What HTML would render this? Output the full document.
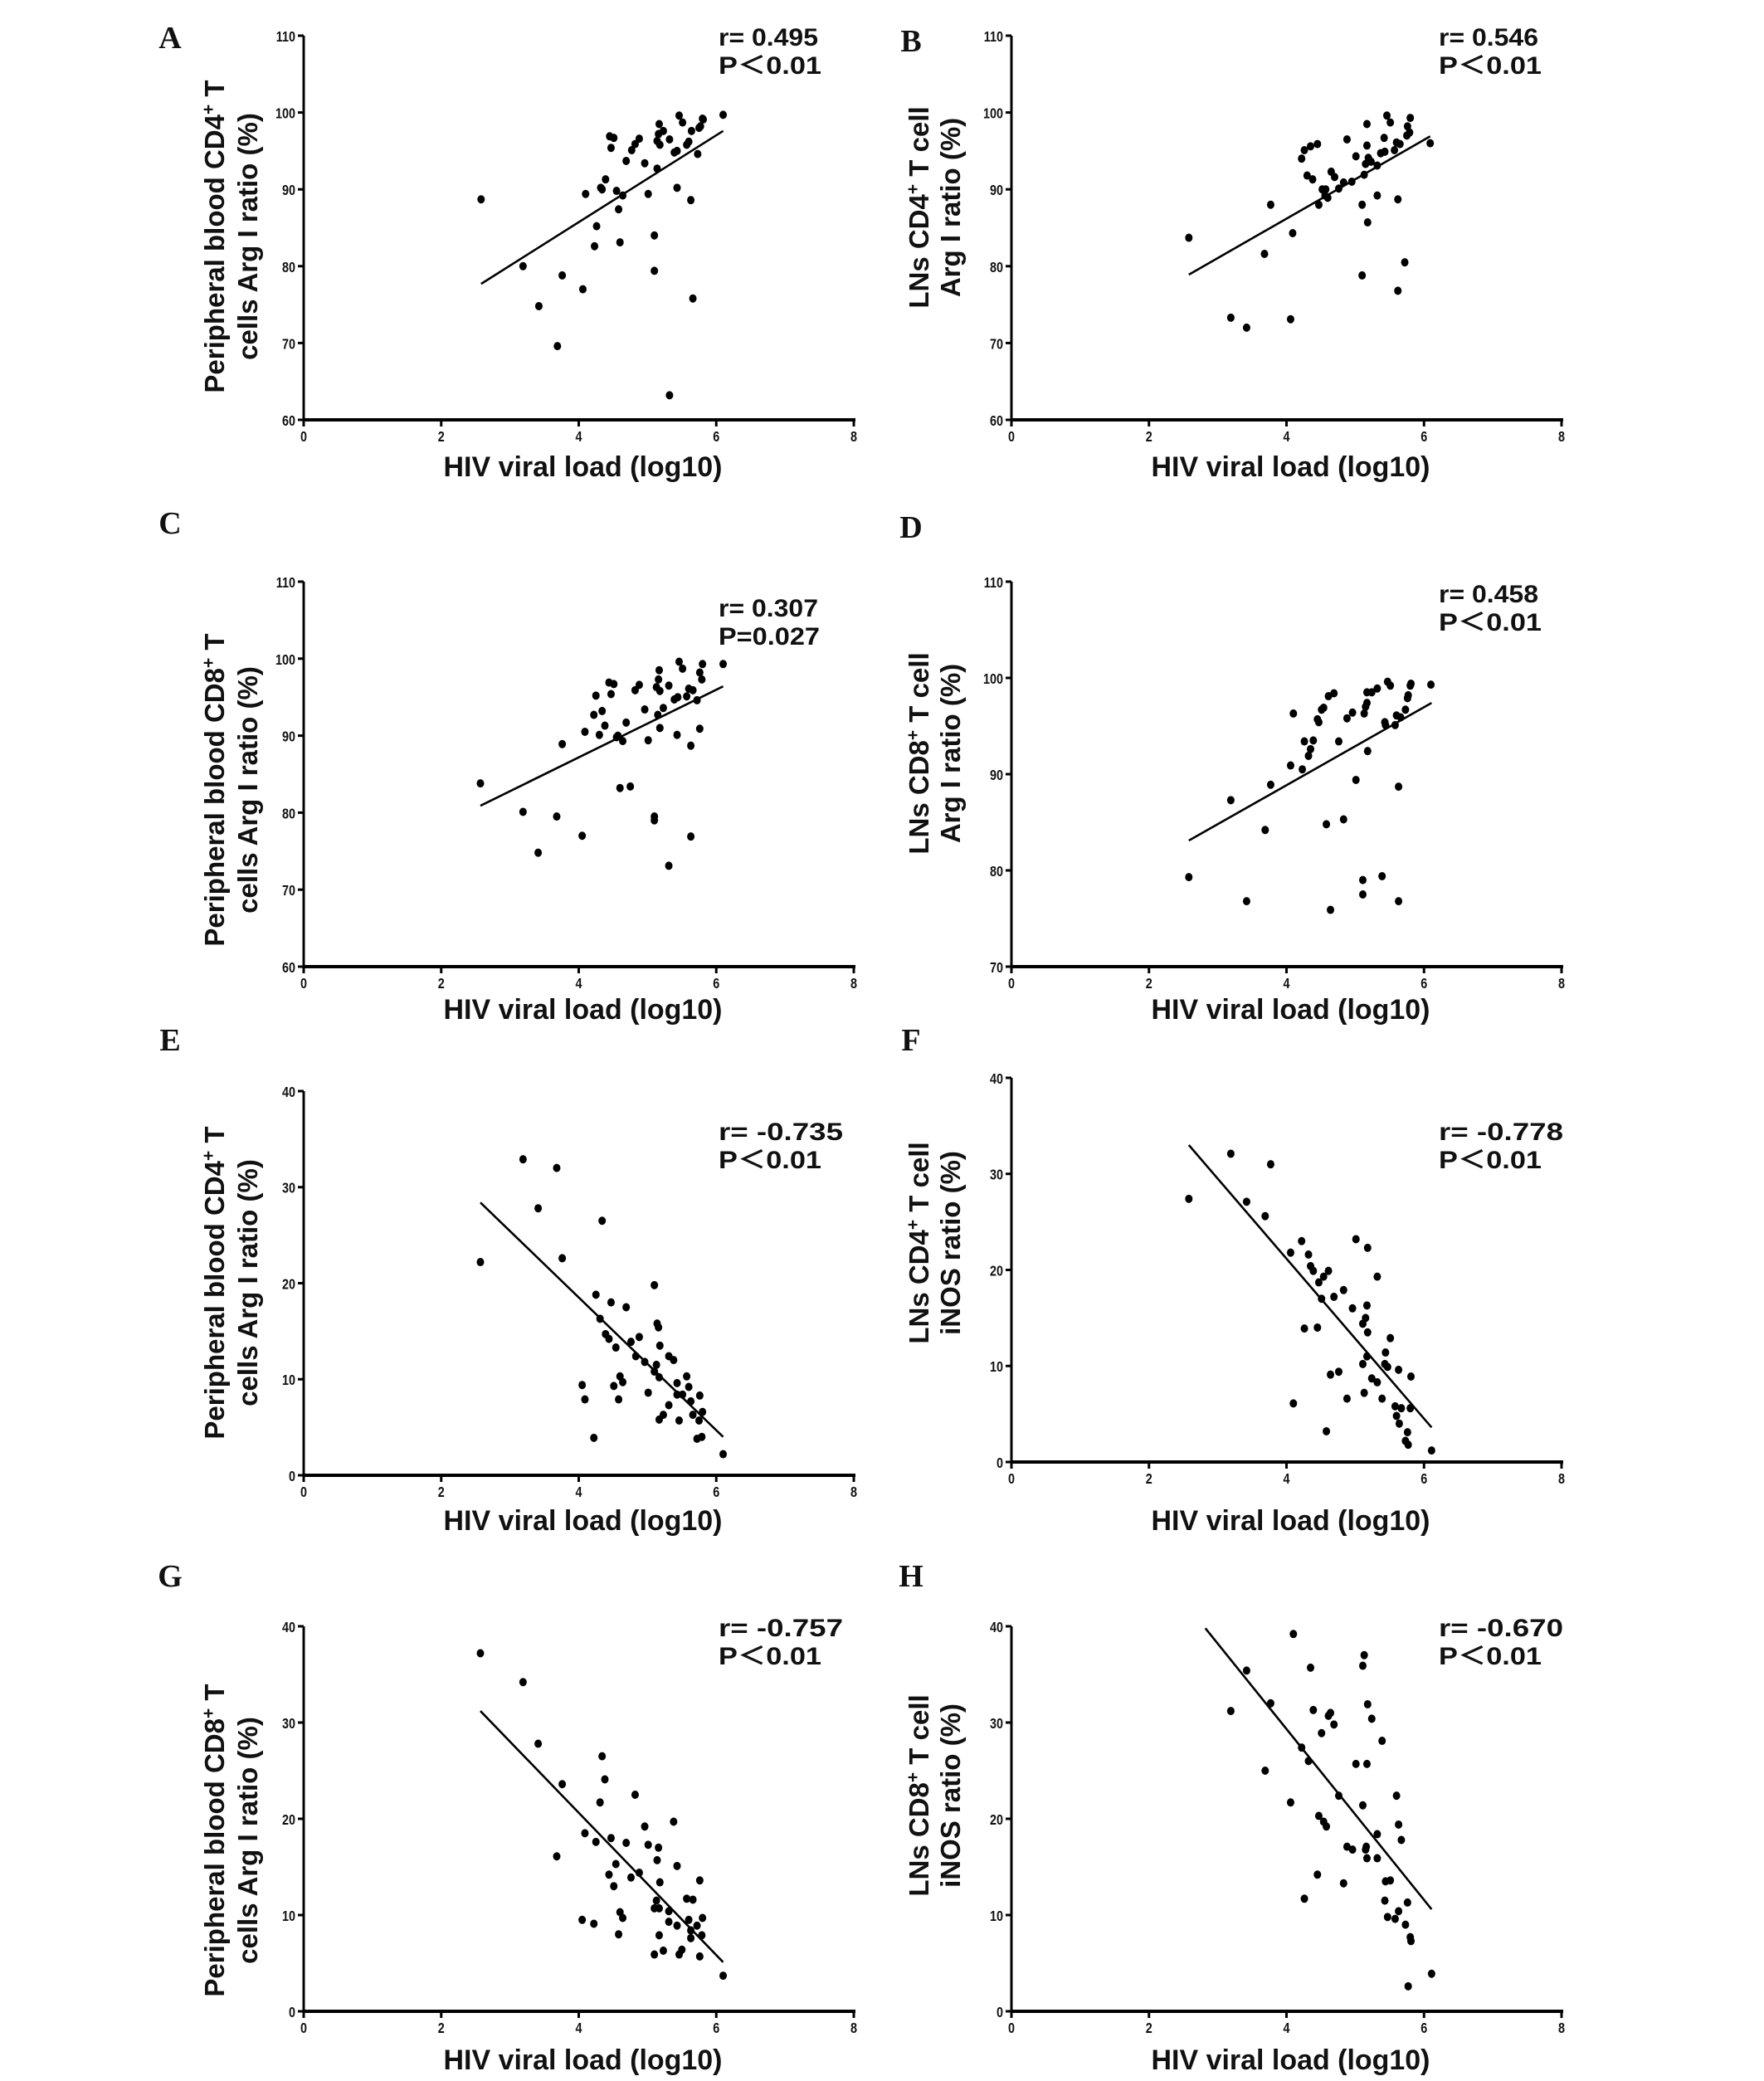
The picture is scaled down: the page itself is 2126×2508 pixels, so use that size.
<!DOCTYPE html>
<html><head><meta charset="utf-8"><style>
html,body{margin:0;padding:0;background:#fff;}
svg{display:block;}
text{font-family:"Liberation Sans","Noto Sans CJK SC",sans-serif;fill:#111;}
</style></head>
<body>
<svg id="fig" xmlns="http://www.w3.org/2000/svg" width="2126" height="2508" viewBox="0 0 2126 2508"></svg>
<script>
// ---- data (x = HIV viral load log10, y = ratio %) ----
const xA=[2.58,3.19,3.42,3.69,3.76,4.06,4.10,4.23,4.26,4.32,4.34,4.39,4.45,4.47,4.51,4.55,4.58,4.60,4.64,4.69,4.77,4.82,4.88,4.96,5.01,5.10,5.10,5.14,5.14,5.16,5.17,5.18,5.23,5.32,5.32,5.39,5.43,5.43,5.46,5.51,5.57,5.60,5.63,5.64,5.66,5.73,5.75,5.77,5.80,5.81,6.10];
const yA=[88.7,80.0,74.8,69.6,78.8,77.0,89.4,82.6,85.2,90.2,90.0,91.3,96.9,95.4,96.7,89.8,87.4,83.1,89.2,93.7,95.1,95.9,96.6,93.4,89.4,84.0,79.4,92.7,96.3,97.2,98.5,95.8,97.6,96.5,63.2,94.8,90.2,95.0,99.6,98.7,95.8,96.2,88.6,97.6,75.8,94.6,98.0,98.2,99.2,99.1,99.7];
const fitXA=[2.58,6.10], fitYA=[77.7,97.6];

const xB=[2.58,3.19,3.42,3.68,3.77,4.06,4.09,4.22,4.26,4.30,4.35,4.38,4.45,4.47,4.52,4.57,4.56,4.60,4.65,4.70,4.76,4.83,4.88,4.95,5.01,5.10,5.10,5.13,5.15,5.17,5.17,5.18,5.19,5.23,5.32,5.32,5.37,5.42,5.43,5.46,5.51,5.57,5.60,5.62,5.62,5.65,5.72,5.75,5.76,5.79,5.80,6.09];
const yB=[83.7,73.3,72.0,81.6,88.0,73.1,84.3,94.0,95.1,91.8,95.6,91.3,95.9,88.0,90.0,90.0,89.2,88.9,92.3,91.6,90.1,90.9,96.5,91.0,94.3,88.0,78.8,91.9,93.3,98.5,95.7,85.7,94.1,93.6,93.1,89.2,94.7,96.7,94.9,99.6,98.7,95.1,96.1,88.7,76.8,95.9,80.5,97.0,98.2,97.4,99.3,96.0];
const fitXB=[2.58,6.09], fitYB=[78.9,96.9];

const xC=[2.57,3.19,3.41,3.68,3.76,4.05,4.09,4.22,4.25,4.30,4.34,4.38,4.44,4.51,4.47,4.55,4.57,4.60,4.64,4.69,4.75,4.82,4.88,4.96,5.01,5.10,5.10,5.13,5.15,5.16,5.17,5.18,5.18,5.23,5.31,5.31,5.39,5.43,5.44,5.46,5.51,5.57,5.60,5.63,5.63,5.66,5.72,5.76,5.76,5.79,5.80,6.10];
const yC=[83.8,80.1,74.8,79.5,88.9,77.0,90.5,92.7,95.2,90.1,93.2,91.3,96.9,96.7,95.4,89.8,90.0,83.2,89.3,91.7,83.4,95.9,96.6,93.4,89.4,79.5,79.0,96.3,92.7,97.3,98.5,95.8,91.0,93.6,96.5,73.1,94.7,90.1,95.0,99.6,98.7,95.1,96.1,88.7,76.9,95.9,94.6,90.9,98.2,97.3,99.3,99.3];
const fitXC=[2.57,6.10], fitYC=[80.9,96.4];

const xD=[2.58,3.19,3.42,3.69,3.77,4.06,4.10,4.23,4.26,4.32,4.35,4.39,4.45,4.47,4.51,4.54,4.58,4.61,4.64,4.69,4.76,4.83,4.88,4.96,5.01,5.11,5.11,5.13,5.15,5.17,5.17,5.18,5.24,5.32,5.39,5.43,5.44,5.47,5.51,5.58,5.60,5.63,5.63,5.66,5.73,5.76,5.77,5.80,5.81,6.10];
const yD=[79.3,87.3,76.8,84.2,88.9,90.9,96.3,90.5,93.4,91.9,92.6,93.5,95.7,95.4,96.7,96.9,84.8,98.1,75.9,98.4,93.4,85.3,95.8,96.4,89.4,79.0,77.5,96.3,97.0,97.4,98.5,92.4,98.5,98.9,79.4,95.4,95.1,99.6,99.2,95.1,96.1,88.7,76.8,95.9,96.7,97.9,98.2,99.2,99.4,99.3];
const fitXD=[2.58,6.11], fitYD=[83.1,97.4];

const xE=[2.57,3.19,3.41,3.68,3.76,4.05,4.09,4.22,4.25,4.31,4.34,4.39,4.44,4.47,4.51,4.54,4.58,4.60,4.64,4.69,4.76,4.83,4.88,4.96,5.01,5.10,5.10,5.13,5.14,5.16,5.17,5.17,5.18,5.23,5.31,5.31,5.38,5.43,5.43,5.46,5.51,5.57,5.60,5.63,5.66,5.72,5.75,5.76,5.79,5.80,6.10];
const yE=[22.2,32.9,27.8,32.0,22.6,9.4,7.9,3.9,18.8,16.3,26.5,14.7,14.2,18.0,9.3,13.3,7.9,10.3,9.7,17.5,13.9,12.4,14.4,11.8,8.6,19.8,10.8,11.5,15.8,15.4,10.2,5.8,13.5,6.3,12.4,7.3,12.0,9.6,8.4,5.7,8.4,10.3,9.2,7.7,6.3,3.8,5.7,8.3,4.0,6.6,2.2];
const fitXE=[2.57,6.10], fitYE=[28.4,4.0];

const xF=[2.58,3.19,3.42,3.69,3.77,4.06,4.10,4.22,4.26,4.32,4.35,4.39,4.45,4.47,4.51,4.54,4.58,4.61,4.64,4.69,4.76,4.83,4.88,4.96,5.01,5.11,5.11,5.13,5.15,5.17,5.17,5.18,5.18,5.24,5.32,5.32,5.39,5.43,5.44,5.47,5.51,5.58,5.60,5.63,5.64,5.67,5.73,5.76,5.77,5.81,5.80,6.11];
const yF=[27.4,32.1,27.1,25.6,31.0,21.8,6.1,23.0,13.9,21.6,20.4,19.9,14.0,18.7,17.0,19.3,3.2,19.9,9.1,17.2,9.4,17.9,6.6,16.0,23.2,10.2,14.4,7.2,15.0,16.3,11.0,22.3,13.5,8.7,19.3,8.3,6.6,10.2,11.4,9.9,12.9,5.8,4.8,9.6,4.0,5.6,2.2,3.1,1.8,8.9,5.6,1.2];
const fitXF=[2.58,6.11], fitYF=[33.0,3.6];

const xG=[2.57,3.19,3.41,3.68,3.76,4.05,4.09,4.22,4.25,4.31,4.34,4.38,4.44,4.47,4.51,4.54,4.58,4.60,4.64,4.69,4.76,4.82,4.88,4.96,5.01,5.10,5.10,5.13,5.14,5.16,5.17,5.17,5.18,5.23,5.31,5.31,5.38,5.43,5.43,5.46,5.50,5.57,5.60,5.63,5.63,5.66,5.72,5.76,5.76,5.79,5.80,6.10];
const yG=[37.2,34.2,27.8,16.1,23.6,9.5,18.5,9.1,17.6,21.7,26.5,24.1,14.2,18.0,13.0,15.3,8.0,10.3,9.7,17.5,13.9,22.5,14.4,19.2,17.3,5.9,10.7,11.5,15.7,17.0,10.7,7.9,13.4,6.3,10.4,9.3,19.7,8.9,15.1,5.9,6.4,11.7,9.5,7.6,8.4,11.6,8.9,5.7,13.6,7.9,9.7,3.7];
const fitXG=[2.57,6.10], fitYG=[31.2,5.1];

const xH=[3.19,3.42,3.69,3.77,4.06,4.10,4.22,4.26,4.32,4.35,4.39,4.45,4.47,4.51,4.54,4.58,4.61,4.64,4.69,4.76,4.83,4.88,4.96,5.01,5.11,5.11,5.13,5.15,5.16,5.17,5.17,5.18,5.24,5.32,5.32,5.39,5.43,5.44,5.47,5.51,5.58,5.60,5.63,5.63,5.67,5.73,5.76,5.77,5.80,5.81,6.11];
const yH=[31.2,35.4,25.0,32.0,21.7,39.2,27.4,11.7,26.0,35.7,31.3,14.2,20.3,28.9,19.7,19.2,30.7,31.0,29.8,22.4,13.3,17.1,16.8,25.7,35.9,21.4,37.0,16.8,17.1,25.7,15.9,31.9,30.4,18.4,15.9,28.1,11.5,13.5,9.8,13.6,9.6,22.4,10.4,19.4,17.8,9.0,11.3,2.6,7.7,7.3,3.9];
const fitXH=[2.82,6.11], fitYH=[39.8,10.6];

const xTicks=[0,2,4,6,8];
const yTicksArg=[60,70,80,90,100,110];
const yTicksD=[70,80,90,100,110];
const yTicksPct=[0,10,20,30,40];

const NS="http://www.w3.org/2000/svg";
const svg=document.getElementById('fig');
function mk(tag,attrs,parent){const e=document.createElementNS(NS,tag);for(const k in attrs)e.setAttribute(k,attrs[k]);(parent||svg).appendChild(e);return e;}

const panels=[
 {id:'a',letter:'A',lx:205,ly:58,X0:366,X1:1029,Y0:506,Y1:43,yt:yTicksArg,xs:xA,ys:yA,fx:fitXA,fy:fitYA,r:'r= 0.495',p:'P＜0.01',rx:866,ry:55,t1:'Peripheral blood CD4',t2:'cells Arg I ratio (%)',tail:' T',tx:[258,298],tc:285,xt:562},
 {id:'b',letter:'B',lx:1098,ly:62,X0:1219,X1:1882,Y0:506,Y1:43,yt:yTicksArg,xs:xB,ys:yB,fx:fitXB,fy:fitYB,r:'r= 0.546',p:'P＜0.01',rx:1734,ry:55,t1:'LNs CD4',t2:'Arg I ratio (%)',tail:' T cell',tx:[1107,1145],tc:250,xt:562},
 {id:'c',letter:'C',lx:205,ly:643,X0:366,X1:1029,Y0:1165,Y1:701,yt:yTicksArg,xs:xC,ys:yC,fx:fitXC,fy:fitYC,r:'r= 0.307',p:'P=0.027',rx:866,ry:743,t1:'Peripheral blood CD8',t2:'cells Arg I ratio (%)',tail:' T',tx:[258,298],tc:952,xt:1216},
 {id:'d',letter:'D',lx:1098,ly:648,X0:1219,X1:1882,Y0:1165,Y1:701,yt:yTicksD,xs:xD,ys:yD,fx:fitXD,fy:fitYD,r:'r= 0.458',p:'P＜0.01',rx:1734,ry:726,t1:'LNs CD8',t2:'Arg I ratio (%)',tail:' T cell',tx:[1107,1145],tc:908,xt:1216},
 {id:'e',letter:'E',lx:205,ly:1266,X0:366,X1:1029,Y0:1778,Y1:1315,yt:yTicksPct,xs:xE,ys:yE,fx:fitXE,fy:fitYE,r:'r= -0.735',p:'P＜0.01',rx:866,ry:1374,t1:'Peripheral blood CD4',t2:'cells Arg I ratio (%)',tail:' T',tx:[258,298],tc:1546,xt:1832},
 {id:'f',letter:'F',lx:1098,ly:1266,X0:1219,X1:1882,Y0:1762,Y1:1299,yt:yTicksPct,xs:xF,ys:yF,fx:fitXF,fy:fitYF,r:'r= -0.778',p:'P＜0.01',rx:1734,ry:1374,t1:'LNs CD4',t2:'iNOS ratio (%)',tail:' T cell',tx:[1107,1145],tc:1498,xt:1832},
 {id:'g',letter:'G',lx:205,ly:1912,X0:366,X1:1029,Y0:2424,Y1:1960,yt:yTicksPct,xs:xG,ys:yG,fx:fitXG,fy:fitYG,r:'r= -0.757',p:'P＜0.01',rx:866,ry:1972,t1:'Peripheral blood CD8',t2:'cells Arg I ratio (%)',tail:' T',tx:[258,298],tc:2218,xt:2482},
 {id:'h',letter:'H',lx:1098,ly:1912,X0:1219,X1:1882,Y0:2424,Y1:1960,yt:yTicksPct,xs:xH,ys:yH,fx:fitXH,fy:fitYH,r:'r= -0.670',p:'P＜0.01',rx:1734,ry:1972,t1:'LNs CD8',t2:'iNOS ratio (%)',tail:' T cell',tx:[1107,1145],tc:2164,xt:2482}
];

panels.forEach(P=>{
  const g=mk('g',{});
  
  
  const yMin=P.yt[0], yMax=P.yt[P.yt.length-1];
  const sx=v=>P.X0+(v-0)/(8-0)*(P.X1-P.X0);
  const sy=v=>P.Y0-(v-yMin)/(yMax-yMin)*(P.Y0-P.Y1);

  const L=mk('text',{x:P.lx,y:P.ly,'text-anchor':'middle','font-size':38,'font-weight':'bold',style:'font-family:"Liberation Serif",serif'},g);
  L.textContent=P.letter;
  
  

  const ax=mk('line',{x1:P.X0,y1:P.Y0,x2:P.X1+2,y2:P.Y0,stroke:'#000','stroke-width':4},g);
  
  
  const ay=mk('line',{x1:P.X0,y1:P.Y0+2,x2:P.X0,y2:P.Y1,stroke:'#000','stroke-width':3},g);
  
  

  xTicks.forEach(t=>{
    const tk=mk('line',{x1:sx(t),y1:P.Y0,x2:sx(t),y2:P.Y0+8,stroke:'#000','stroke-width':3},g);
    
    
    const tl=mk('text',{x:sx(t),y:P.Y0+26,'text-anchor':'middle','font-size':18,'font-weight':'bold',transform:'translate('+sx(t)+',0) scale(0.8,1) translate('+(-sx(t))+',0)'},g);
    tl.textContent=t;
    
    
  });
  P.yt.forEach(t=>{
    const tk=mk('line',{x1:P.X0-7,y1:sy(t),x2:P.X0,y2:sy(t),stroke:'#000','stroke-width':3},g);
    
    
    const ex=P.X0-10;
    const tl=mk('text',{x:ex,y:sy(t)+7,'text-anchor':'end','font-size':18,'font-weight':'bold',transform:'translate('+ex+',0) scale(0.8,1) translate('+(-ex)+',0)'},g);
    tl.textContent=t;
    
    
  });

  const xt=mk('text',{x:(P.X0+P.X1)/2+5,y:P.xt+12,'text-anchor':'middle','font-size':34,'font-weight':'bold',textLength:336,lengthAdjust:'spacingAndGlyphs'},g);
  xt.textContent='HIV viral load (log10)';
  
  

  const yt=mk('text',{'text-anchor':'middle','font-size':33,'font-weight':'bold',transform:'translate('+P.tx[0]+','+P.tc+') rotate(-90)',y:12},g);
  
  
  const s1=mk('tspan',{},yt); s1.textContent=P.t1;
  const s2=mk('tspan',{dy:-12,'font-size':21},yt); s2.textContent='+';
  const s3=mk('tspan',{dy:12},yt); s3.textContent=P.tail;
  const yt2=mk('text',{'text-anchor':'middle','font-size':33,'font-weight':'bold',transform:'translate('+P.tx[1]+','+P.tc+') rotate(-90)',y:12},g);
  yt2.textContent=P.t2;
  
  

  const fit=mk('line',{x1:sx(P.fx[0]),y1:sy(P.fy[0]),x2:sx(P.fx[1]),y2:sy(P.fy[1]),stroke:'#000','stroke-width':2.6},g);
  
  

  P.xs.forEach((v,i)=>{
    const c=mk('ellipse',{cx:sx(v),cy:sy(P.ys[i]),rx:4.5,ry:5,fill:'#000'},g);
    
    
  });

  const rt=mk('text',{x:P.rx,y:P.ry,'font-size':30,'font-weight':'bold',textLength:P.r.length>8?150:120,lengthAdjust:'spacingAndGlyphs'},g);
  rt.textContent=P.r;
  
  
  const pt=mk('text',{x:P.rx,y:P.ry+34,'font-size':30,'font-weight':'bold',textLength:P.p==='P=0.027'?122:124,lengthAdjust:'spacingAndGlyphs'},g);
  pt.textContent=P.p;
  
  
});
</script>
</body></html>
